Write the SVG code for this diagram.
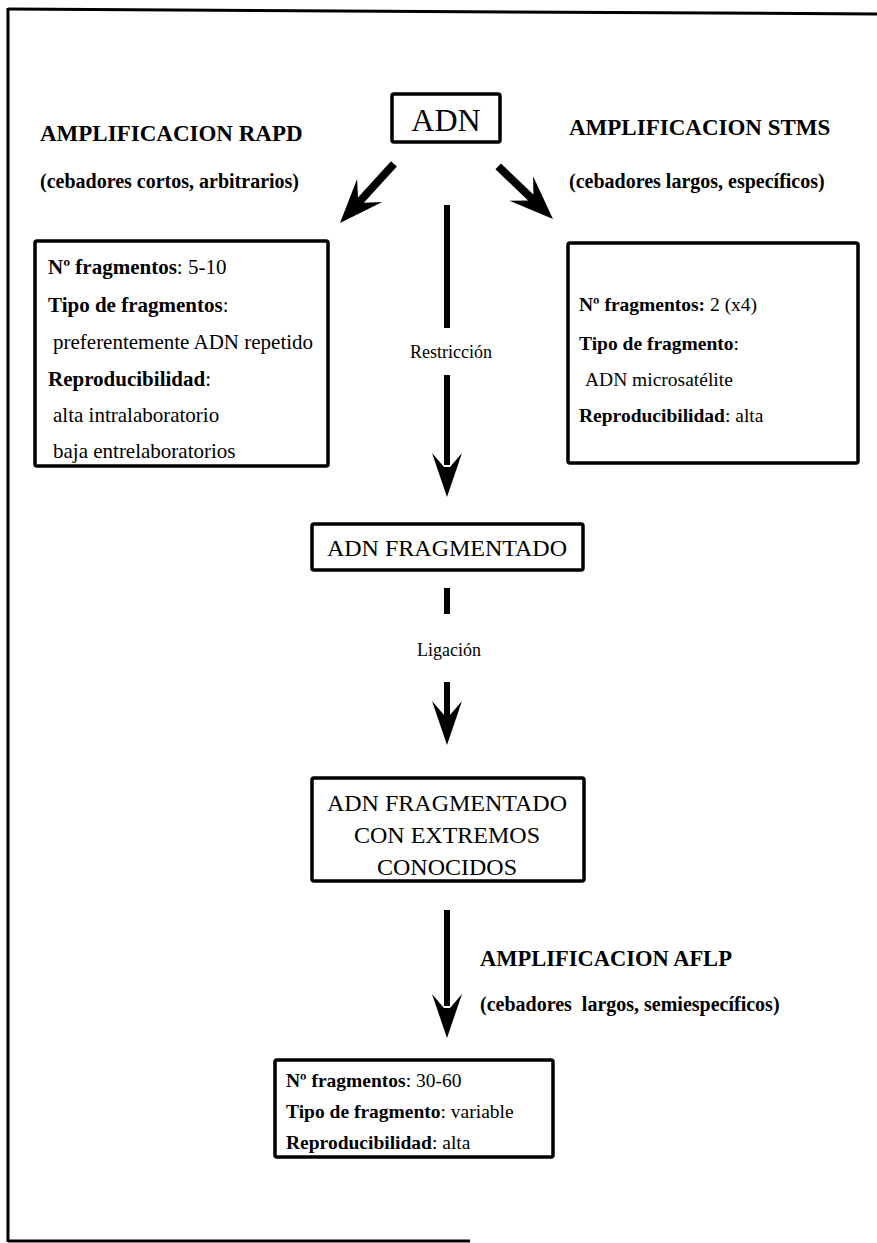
<svg xmlns="http://www.w3.org/2000/svg" width="877" height="1243" viewBox="0 0 877 1243">
<defs>
<style>
text{font-family:"Liberation Serif","Times New Roman","DejaVu Serif",serif;fill:#000}
.b{font-weight:bold}
.box{fill:#fff;stroke:#000;stroke-width:3.5}
.shaft{stroke:#000;stroke-width:6;fill:none}
.dshaft{stroke:#000;stroke-width:8;fill:none}
.head{fill:#000}
.body{font-size:19.5px}
.bodyl{font-size:21px}
.hd{font-size:23px;font-weight:bold}
.sub{font-size:20px;font-weight:bold}
.big{font-size:24px}
.lbl{font-size:18px}
</style>
<path id="ah" d="M0,0 L-15,-44 L-3,-30 L3,-30 L15,-44 Z"/>
<path id="dah" d="M0,0 L-17,-44 L-4,-31 L4,-31 L17,-44 Z"/>
</defs>
<rect width="877" height="1243" fill="#fff"/>
<g id="frame" stroke="#000" fill="none">
<line x1="8" y1="9" x2="877" y2="14" stroke-width="3"/>
<line x1="8" y1="8" x2="8" y2="1242" stroke-width="3"/>
<line x1="8" y1="1241" x2="470" y2="1241" stroke-width="3"/>
</g>
<g id="labels">
<text class="hd" x="40" y="141">AMPLIFICACION RAPD</text>
<text class="sub" x="40" y="188">(cebadores cortos, arbitrarios)</text>
<text class="hd" x="569" y="135">AMPLIFICACION STMS</text>
<text class="sub" x="569" y="188">(cebadores largos, específicos)</text>
<text class="hd" x="480" y="966" style="font-size:22.5px">AMPLIFICACION AFLP</text>
<text class="sub" x="480" y="1011" xml:space="preserve">(cebadores  largos, semiespecíficos)</text>
</g>
<g id="connectors">
<g transform="translate(340,223) rotate(42.4)"><line class="dshaft" x1="0" y1="-80" x2="0" y2="-30"/><use href="#dah" class="head"/></g>
<g transform="translate(553,219) rotate(-46.1)"><line class="dshaft" x1="0" y1="-76" x2="0" y2="-30"/><use href="#dah" class="head"/></g>
<line class="shaft" x1="447" y1="205" x2="447" y2="328"/>
<line class="shaft" x1="447" y1="375" x2="447" y2="465"/>
<use href="#ah" class="head" x="447" y="497"/>
<line class="shaft" x1="447" y1="588" x2="447" y2="614"/>
<line class="shaft" x1="447" y1="682" x2="447" y2="715"/>
<use href="#ah" class="head" x="447" y="745"/>
<line class="shaft" x1="447" y1="910" x2="447" y2="1006"/>
<use href="#ah" class="head" x="447" y="1038"/>
<text class="lbl" x="451" y="358" text-anchor="middle">Restricción</text>
<text class="lbl" x="449" y="656" text-anchor="middle">Ligación</text>
</g>
<g id="adn">
<rect class="box" x="392" y="94" width="108" height="48" rx="2"/>
<text x="446" y="131" text-anchor="middle" style="font-size:32px">ADN</text>
</g>
<g id="rapd">
<rect class="box" x="35" y="241" width="293" height="225" rx="2"/>
<text class="bodyl" x="48" y="274"><tspan class="b">Nº fragmentos</tspan>: 5-10</text>
<text class="bodyl" x="48" y="312"><tspan class="b">Tipo de fragmentos</tspan>:</text>
<text class="bodyl" x="53" y="349">preferentemente ADN repetido</text>
<text class="bodyl" x="48" y="386"><tspan class="b">Reproducibilidad</tspan>:</text>
<text class="bodyl" x="53" y="422">alta intralaboratorio</text>
<text class="bodyl" x="53" y="458">baja entrelaboratorios</text>
</g>
<g id="stms">
<rect class="box" x="568" y="243" width="290" height="220" rx="2"/>
<text class="body" x="579" y="311"><tspan class="b">Nº fragmentos:</tspan> 2 (x4)</text>
<text class="body" x="579" y="350"><tspan class="b">Tipo de fragmento</tspan>:</text>
<text class="body" x="585" y="386">ADN microsatélite</text>
<text class="body" x="579" y="422"><tspan class="b">Reproducibilidad</tspan>: alta</text>
</g>
<g id="fragmentado">
<rect class="box" x="312" y="524" width="271" height="46" rx="2"/>
<text class="big" x="447" y="556" text-anchor="middle">ADN FRAGMENTADO</text>
</g>
<g id="extremos">
<rect class="box" x="312" y="778" width="272" height="103" rx="2"/>
<text class="big" x="447" y="811" text-anchor="middle">ADN FRAGMENTADO</text>
<text class="big" x="447" y="843" text-anchor="middle">CON EXTREMOS</text>
<text class="big" x="447" y="875" text-anchor="middle">CONOCIDOS</text>
</g>
<g id="aflp">
<rect class="box" x="275" y="1060" width="278" height="97" rx="2"/>
<text class="body" x="286" y="1087"><tspan class="b">Nº fragmentos</tspan>: 30-60</text>
<text class="body" x="286" y="1118"><tspan class="b">Tipo de fragmento</tspan>: variable</text>
<text class="body" x="286" y="1149"><tspan class="b">Reproducibilidad</tspan>: alta</text>
</g>
</svg>
